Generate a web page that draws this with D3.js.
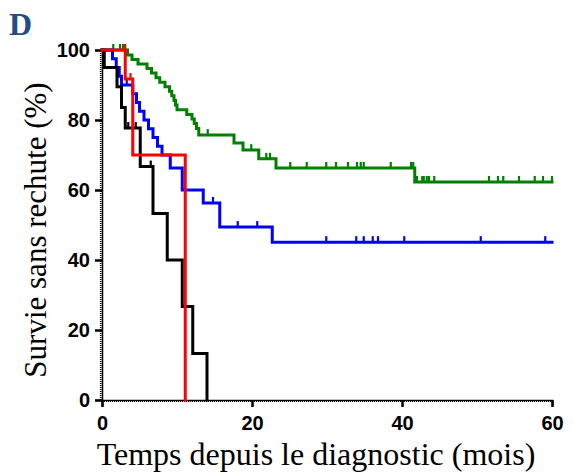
<!DOCTYPE html>
<html><head><meta charset="utf-8">
<script src="https://cdn.jsdelivr.net/npm/d3@7"></script>
<style>html,body{margin:0;padding:0;background:#fff;}svg{display:block;}</style>
</head><body>
<svg id="chart" width="573" height="474"></svg>
<script>
// ---- data ----
const xTicks = [0, 20, 40, 60];
const yTicks = [0, 20, 40, 60, 80, 100];
const xTitle = "Temps depuis le diagnostic (mois)";
const yTitle = "Survie sans rechute (%)";
const panelLabel = "D";

const greenSteps = [[0,100],[3.4,98.6],[4.0,97.3],[4.8,96.0],[6.0,94.7],[6.6,93.4],[7.2,92.1],[7.7,90.8],[8.4,89.5],[9.0,88.2],[9.3,86.9],[9.6,85.6],[9.8,84.3],[10.0,82.9],[11.3,81.6],[12.0,80.3],[12.3,79.0],[12.6,77.6],[12.9,75.7],[17.6,73.4],[18.8,71.4],[20.9,68.9],[23.2,66.3],[41.7,62.3]];
const greenEnd = 60;
const greenCensor = [[1.5,100],[2.4,100],[2.8,100],[3.1,100],[14.1,75.7],[19.9,71.4],[21.9,68.9],[22.4,68.9],[25.1,66.3],[27.3,66.3],[29.9,66.3],[31.2,66.3],[32.8,66.3],[34.0,66.3],[34.5,66.3],[34.9,66.3],[38.5,66.3],[41.2,66.3],[41.5,66.3],[42.0,62.3],[42.7,62.3],[42.9,62.3],[43.3,62.3],[43.6,62.3],[44.3,62.3],[51.6,62.3],[52.8,62.3],[53.5,62.3],[55.6,62.3],[57.7,62.3],[58.8,62.3],[60.0,62.3]];

const blueSteps = [[0,100],[1.4,97.5],[1.9,95],[2.3,92.5],[2.6,90],[4.1,87.5],[4.6,85],[5.0,82.5],[5.6,80],[6.2,77.5],[6.8,75],[7.4,72.5],[8.0,70],[9.1,66.3],[10.7,60],[13.5,56.3],[15.7,49.4],[22.7,45.1]];
const blueEnd = 60;
const blueCensor = [[3.3,90],[14.8,56.3],[18.1,49.4],[20.7,49.4],[29.9,45.1],[33.9,45.1],[34.9,45.1],[36.1,45.1],[36.8,45.1],[40.3,45.1],[50.5,45.1],[59.1,45.1]];

const blackSteps = [[0,100],[0.3,95],[2.0,89.5],[2.6,83.6],[3.1,77.7],[5.1,66.7],[6.8,53.3],[8.7,40],[10.7,26.7],[12.1,13.3],[14.0,0]];
const blackEnd = 14.0;
const blackCensor = [[3.5,77.7],[4.5,77.7],[6.5,66.7]];

const redSteps = [[0,100],[3.1,91.7],[4.1,70],[11.1,0]];
const redEnd = 11.1;
const redCensor = [[2.9,100],[3.8,91.7]];

// ---- drawing ----
const svg = d3.select("#chart");
const x = d3.scaleLinear().domain([0, 60]).range([102, 552]);
const y = d3.scaleLinear().domain([0, 100]).range([400, 50]);

const gx = svg.append("g").attr("transform", "translate(0,400)")
  .call(d3.axisBottom(x).tickValues(xTicks).tickSize(7).tickPadding(9).tickFormat(d3.format("d")));
const gy = svg.append("g").attr("transform", "translate(102,0)")
  .call(d3.axisLeft(y).tickValues(yTicks).tickSize(7).tickPadding(5).tickFormat(d3.format("d")));
[gx, gy].forEach(g => {
  g.attr("font-family", null).attr("font-size", null);
  g.select(".domain").attr("stroke", "#000").attr("stroke-width", 1.5);
  g.selectAll(".tick line").attr("stroke", "#000").attr("stroke-width", 2.5);
  g.selectAll(".tick text").attr("fill", "#000")
    .attr("font-family", "Liberation Sans, Arial, sans-serif")
    .attr("font-weight", "bold").attr("font-size", "20px");
});
// dotted outer edge of the axes (minor-tick texture)
svg.append("line").attr("x1", x(0)).attr("x2", x(60)).attr("y1", 401.3).attr("y2", 401.3)
  .attr("stroke", "#000").attr("stroke-width", 1.6).attr("stroke-dasharray", "1,1");
svg.append("line").attr("x1", 100.7).attr("x2", 100.7).attr("y1", y(0)).attr("y2", y(100))
  .attr("stroke", "#000").attr("stroke-width", 1.6).attr("stroke-dasharray", "1,1");

const line = d3.line().x(d => x(d[0])).y(d => y(d[1])).curve(d3.curveStepAfter);

function drawSeries(steps, end, censor, color) {
  const pts = steps.slice();
  const last = pts[pts.length - 1];
  if (last[0] < end) pts.push([end, last[1]]);
  svg.append("path").datum(pts).attr("d", line)
    .attr("fill", "none").attr("stroke", color).attr("stroke-width", 3)
    .attr("stroke-linejoin", "miter").attr("stroke-linecap", "square");
  svg.append("g").selectAll("line").data(censor).join("line")
    .attr("x1", d => x(d[0])).attr("x2", d => x(d[0]))
    .attr("y1", d => y(d[1])).attr("y2", d => y(d[1]) - 6)
    .attr("stroke", color).attr("stroke-width", 2.2);
}
drawSeries(greenSteps, greenEnd, greenCensor, "#008000");
drawSeries(blueSteps, blueEnd, blueCensor, "#0000ff");
drawSeries(blackSteps, blackEnd, blackCensor, "#000000");
drawSeries(redSteps, redEnd, redCensor, "#ff0000");

// titles
svg.append("text").attr("x", 316).attr("y", 465).attr("text-anchor", "middle")
  .attr("font-family", "Liberation Serif, Times New Roman, serif").attr("font-size", "32px")
  .text(xTitle);
svg.append("text").attr("transform", "translate(46,230) rotate(-90)").attr("text-anchor", "middle")
  .attr("font-family", "Liberation Serif, Times New Roman, serif").attr("font-size", "31px")
  .text(yTitle);
svg.append("text").attr("x", 9).attr("y", 35)
  .attr("font-family", "Liberation Serif, Times New Roman, serif").attr("font-size", "32px")
  .attr("font-weight", "bold").attr("fill", "#224d86").text(panelLabel);
</script>
</body></html>
